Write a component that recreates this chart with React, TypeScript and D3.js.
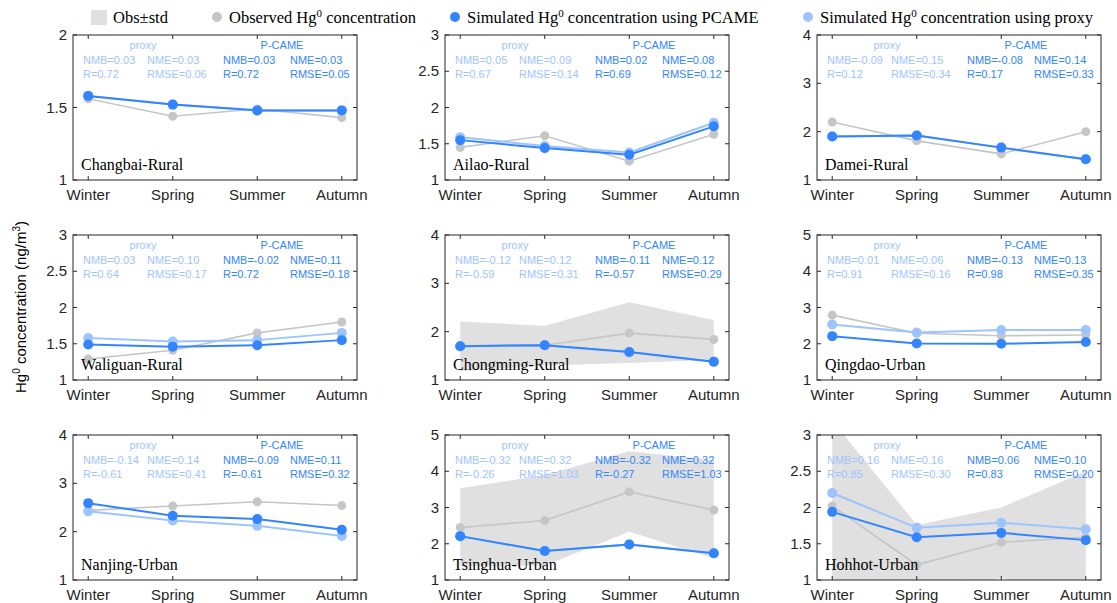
import React, { useEffect, useRef } from "react"
import * as d3 from "d3"

// seasons on the x axis, one panel per site
const seasons = ["Winter", "Spring", "Summer", "Autumn"]
const sites = [
  "Changbai-Rural", "Ailao-Rural", "Damei-Rural",
  "Waliguan-Rural", "Chongming-Rural", "Qingdao-Urban",
  "Nanjing-Urban", "Tsinghua-Urban", "Hohhot-Urban",
]
const yDomains = [[1, 2], [1, 3], [1, 4], [1, 3], [1, 4], [1, 5], [1, 4], [1, 5], [1, 3]]
const yTicks = [
  [1, 1.5, 2], [1, 1.5, 2, 2.5, 3], [1, 2, 3, 4],
  [1, 1.5, 2, 2.5, 3], [1, 2, 3, 4], [1, 2, 3, 4, 5],
  [1, 2, 3, 4], [1, 2, 3, 4, 5], [1, 1.5, 2, 2.5, 3],
]

const observed = [
  [1.56, 1.44, 1.49, 1.43], [1.45, 1.61, 1.26, 1.63], [2.2, 1.81, 1.54, 2.0],
  [1.29, 1.41, 1.65, 1.8], [1.7, 1.72, 1.97, 1.84], [2.79, 2.29, 2.22, 2.24],
  [2.44, 2.53, 2.62, 2.54], [2.45, 2.64, 3.43, 2.93], [2.02, 1.21, 1.52, 1.59],
]
const pcame = [
  [1.58, 1.52, 1.48, 1.48], [1.55, 1.44, 1.35, 1.74], [1.9, 1.92, 1.67, 1.43],
  [1.49, 1.46, 1.48, 1.55], [1.7, 1.72, 1.58, 1.38], [2.21, 2.01, 2.0, 2.05],
  [2.59, 2.33, 2.26, 2.04], [2.21, 1.8, 1.98, 1.74], [1.94, 1.59, 1.65, 1.55],
]
const proxy = [
  [1.58, 1.52, 1.48, 1.48], [1.59, 1.47, 1.38, 1.79], [1.9, 1.92, 1.67, 1.43],
  [1.58, 1.53, 1.55, 1.65], [1.7, 1.72, 1.58, 1.38], [2.53, 2.31, 2.38, 2.38],
  [2.42, 2.23, 2.12, 1.91], [2.21, 1.8, 1.98, 1.74], [2.2, 1.72, 1.79, 1.7],
]
// obs ± std band (only shown for three sites)
const obsLow = [null, null, null, null, [1.18, 1.3, 1.35, 1.42], null, null, [1.38, 1.4, 2.33, 1.6], [0.85, 0.66, 1.03, 0.7]]
const obsHigh = [null, null, null, null, [2.21, 2.12, 2.61, 2.24], null, null, [3.53, 3.9, 4.55, 4.31], [3.2, 1.76, 2.0, 2.5]]

// NMB, NME, R, RMSE
const proxyStats = [
  [0.03, 0.03, 0.72, 0.06], [0.05, 0.09, 0.67, 0.14], [-0.09, 0.15, 0.12, 0.34],
  [0.03, 0.10, 0.64, 0.17], [-0.12, 0.12, -0.59, 0.31], [0.01, 0.06, 0.91, 0.16],
  [-0.14, 0.14, -0.61, 0.41], [-0.32, 0.32, -0.26, 1.03], [0.16, 0.16, 0.85, 0.30],
]
const pcameStats = [
  [0.03, 0.03, 0.72, 0.05], [0.02, 0.08, 0.69, 0.12], [-0.08, 0.14, 0.17, 0.33],
  [-0.02, 0.11, 0.72, 0.18], [-0.11, 0.12, -0.57, 0.29], [-0.13, 0.13, 0.98, 0.35],
  [-0.09, 0.11, -0.61, 0.32], [-0.32, 0.32, -0.27, 1.03], [0.06, 0.10, 0.83, 0.20],
]

const sans = "'Liberation Sans', Arial, sans-serif"
const serif = "'Liberation Serif', 'Times New Roman', serif"
const cObs = "#c6c6c6"
const cShade = "#e0e0e0"
const cPcame = "#3385ff"
const cProxy = "#9ec4ff"
const cAxis = "#262626"

export default function App() {
  const ref = useRef<SVGSVGElement>(null)

  useEffect(() => {
    const svg = d3.select(ref.current)
    svg.selectAll("*").remove()

    const colLefts = [73, 445, 817]
    const rowTops = [35, 235, 435]
    const w = 284
    const h = 145
    const fmt = (v: number) => v.toFixed(2)

    sites.forEach((site, i) => {
      const x0 = colLefts[i % 3]
      const y0 = rowTops[Math.floor(i / 3)]
      const g = svg.append("g").attr("transform", `translate(${x0}, ${y0})`)

      const x = d3.scalePoint().domain(seasons).range([0, w]).padding(0.18)
      const y = d3.scaleLinear().domain(yDomains[i]).range([h, 0])

      const clipId = `clip${i}`
      g.append("clipPath").attr("id", clipId)
        .append("rect").attr("width", w).attr("height", h)
      const plot = g.append("g").attr("clip-path", `url(#${clipId})`)

      const lo = obsLow[i]
      const hi = obsHigh[i]
      if (lo && hi) {
        plot.append("path").datum(seasons.map((_, k) => k))
          .attr("d", d3.area<number>()
            .x((k) => x(seasons[k])!)
            .y0((k) => y(lo[k]))
            .y1((k) => y(hi[k])))
          .attr("fill", cShade)
      }

      const line = d3.line<number>()
        .x((_, k) => x(seasons[k])!)
        .y((d) => y(d))

      const series = [
        { vals: observed[i], color: cObs, lw: 1.6, r: 4.5 },
        { vals: proxy[i], color: cProxy, lw: 2, r: 5 },
        { vals: pcame[i], color: cPcame, lw: 2, r: 5 },
      ]
      series.forEach((s) => {
        plot.append("path").datum(s.vals)
          .attr("d", line)
          .attr("fill", "none")
          .attr("stroke", s.color)
          .attr("stroke-width", s.lw)
        plot.selectAll(null).data(s.vals).enter().append("circle")
          .attr("cx", (_, k) => x(seasons[k])!)
          .attr("cy", (d) => y(d))
          .attr("r", s.r)
          .attr("fill", s.color)
      })

      // box and inward ticks
      g.append("rect").attr("width", w).attr("height", h)
        .attr("fill", "none").attr("stroke", cAxis).attr("stroke-width", 1)
      yTicks[i].forEach((t) => {
        const ty = y(t)
        g.append("line").attr("x1", 0).attr("x2", 4).attr("y1", ty).attr("y2", ty).attr("stroke", cAxis)
        g.append("line").attr("x1", w - 4).attr("x2", w).attr("y1", ty).attr("y2", ty).attr("stroke", cAxis)
        g.append("text").attr("x", -6).attr("y", ty + 5)
          .attr("text-anchor", "end").attr("font-family", sans).attr("font-size", 15)
          .attr("fill", cAxis).text(String(t))
      })
      seasons.forEach((s) => {
        const tx = x(s)!
        g.append("line").attr("x1", tx).attr("x2", tx).attr("y1", h).attr("y2", h - 4).attr("stroke", cAxis)
        g.append("line").attr("x1", tx).attr("x2", tx).attr("y1", 0).attr("y2", 4).attr("stroke", cAxis)
        g.append("text").attr("x", tx).attr("y", h + 20)
          .attr("text-anchor", "middle").attr("font-family", sans).attr("font-size", 15)
          .attr("fill", cAxis).text(s)
      })

      // site name
      g.append("text").attr("x", 8).attr("y", h - 10)
        .attr("font-family", serif).attr("font-size", 16).attr("fill", "#000").text(site)

      // statistics
      const stat = (tx: number, ty: number, txt: string, color: string, anchor = "start") =>
        g.append("text").attr("x", tx).attr("y", ty).attr("text-anchor", anchor)
          .attr("font-family", sans).attr("font-size", 11).attr("fill", color).text(txt)
      const ps = proxyStats[i]
      const cs = pcameStats[i]
      stat(70, 14, "proxy", cProxy, "middle")
      stat(10, 29, `NMB=${fmt(ps[0])}`, cProxy)
      stat(74, 29, `NME=${fmt(ps[1])}`, cProxy)
      stat(10, 43, `R=${fmt(ps[2])}`, cProxy)
      stat(74, 43, `RMSE=${fmt(ps[3])}`, cProxy)
      stat(209, 14, "P-CAME", cPcame, "middle")
      stat(150, 29, `NMB=${fmt(cs[0])}`, cPcame)
      stat(217, 29, `NME=${fmt(cs[1])}`, cPcame)
      stat(150, 43, `R=${fmt(cs[2])}`, cPcame)
      stat(217, 43, `RMSE=${fmt(cs[3])}`, cPcame)
    })

    // y axis label
    const yl = svg.append("text")
      .attr("transform", "translate(26, 307) rotate(-90)")
      .attr("text-anchor", "middle").attr("font-family", sans).attr("font-size", 15).attr("fill", "#000")
    yl.append("tspan").text("Hg")
    yl.append("tspan").attr("dy", -6).attr("font-size", 10).text("0")
    yl.append("tspan").attr("dy", 6).text(" concentration (ng/m")
    yl.append("tspan").attr("dy", -6).attr("font-size", 10).text("3")
    yl.append("tspan").attr("dy", 6).text(")")

    // legend
    const leg = svg.append("g")
    leg.append("rect").attr("x", 91).attr("y", 10).attr("width", 16).attr("height", 15).attr("fill", cShade)
    const legText = (tx: number, main: string, rest?: string) => {
      const t = leg.append("text").attr("x", tx).attr("y", 23)
        .attr("font-family", serif).attr("font-size", 16.5).attr("fill", "#000")
      t.append("tspan").text(main)
      if (rest !== undefined) {
        t.append("tspan").attr("dy", -6).attr("font-size", 11).text("0")
        t.append("tspan").attr("dy", 6).text(rest)
      }
    }
    legText(113, "Obs±std")
    const items = [
      { cx: 217, color: cObs, main: "Observed Hg", rest: " concentration" },
      { cx: 455, color: cPcame, main: "Simulated Hg", rest: " concentration using PCAME" },
      { cx: 808, color: cProxy, main: "Simulated Hg", rest: " concentration using proxy" },
    ]
    items.forEach((it) => {
      leg.append("circle").attr("cx", it.cx).attr("cy", 17).attr("r", 5).attr("fill", it.color)
      legText(it.cx + 12, it.main, it.rest)
    })
  }, [])

  return (
    <svg ref={ref} width={1117} height={603}
      style={{ position: "absolute", left: 0, top: 0, background: "#fff" }} />
  )
}
